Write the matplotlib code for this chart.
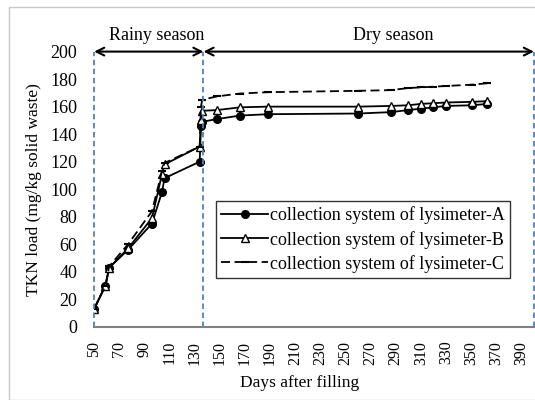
import matplotlib
matplotlib.use("Agg")
import matplotlib.pyplot as plt
from matplotlib.patches import Rectangle

plt.rcParams['font.family'] = ['Liberation Serif', 'DejaVu Serif']

# Days after filling (shared by the three collection systems)
days = [50, 59, 62, 77, 96, 104, 106, 134, 135, 136, 148, 166, 188,
        260, 286, 300, 310, 320, 330, 351, 363]

# TKN load (mg/kg solid waste)
tkn_a = [13, 30, 43, 56, 75, 98, 108, 120, 146, 149, 151, 153.5, 154.5,
         155, 156, 157.5, 158.5, 159.5, 160.5, 161, 162]
tkn_b = [13, 30, 43, 57, 79, 111, 118, 131, 150, 157, 157.5, 159.5, 160,
         160, 160.5, 161, 162, 162.5, 163, 163.5, 164]
tkn_c = [13, 30, 44, 60, 84, 113, 119, 131, 160, 165, 167.5, 169.5, 170.5,
         171.5, 172, 173.5, 174, 174.5, 175, 176, 177]

season_bounds = [50, 137, 400]
season_names = ["Rainy season", "Dry season"]
season_text_x = [100, 288]

fig = plt.figure(figsize=(5.35, 4.0), dpi=100)
ax = fig.add_axes([0.176, 0.183, 0.822, 0.688])

# light frame around the whole chart
fig.patches.append(Rectangle((9 / 535, 0), 1, 1 - 7 / 400, transform=fig.transFigure,
                             fill=False, edgecolor='#c8c8c8', linewidth=1.0))

ax.plot(days, tkn_a, color='black', lw=1.3, marker='o', ms=5.5,
        label='collection system of lysimeter-A')
ax.plot(days, tkn_b, color='black', lw=1.3, marker='^', ms=5.5, mfc='white',
        label='collection system of lysimeter-B')
ax.plot(days, tkn_c, color='black', lw=1.3, ls=(0, (5, 2.5)), marker='_', ms=6, mew=1.5,
        label='collection system of lysimeter-C')

# season boundaries
for b in season_bounds:
    ax.plot([b, b], [0, 200], color='#4f81bd', lw=1.3, ls=(0, (3, 2)), clip_on=False)

for i in range(2):
    ax.annotate('', xy=(season_bounds[i], 200), xytext=(season_bounds[i + 1], 200),
                arrowprops=dict(arrowstyle='<->', color='black', lw=1.5,
                                mutation_scale=14, shrinkA=0, shrinkB=0),
                annotation_clip=False)
    ax.text(season_text_x[i], 211.5, season_names[i], ha='center', va='center', fontsize=13)

ax.set_xlim(50, 400)
ax.set_ylim(0, 200)
ax.set_xticks(range(50, 400, 20))
ax.set_yticks(range(0, 201, 20))
ax.tick_params(axis='x', labelrotation=90, length=0, labelsize=11.5, pad=10)
ax.tick_params(axis='y', length=0, labelsize=13, pad=12)

for s in ['top', 'right', 'left']:
    ax.spines[s].set_visible(False)
ax.spines['bottom'].set_color('#808080')
ax.spines['bottom'].set_linewidth(1.5)

ax.set_ylabel('TKN load (mg/kg solid waste)', fontsize=12.5, labelpad=6)
fig.text(300 / 535, 1 - 383 / 400, 'Days after filling', ha='center', va='center', fontsize=12.5)

leg = ax.legend(loc='upper left', bbox_to_anchor=(0.277, 0.457), fontsize=13,
                frameon=True, fancybox=False, edgecolor='black', handlelength=2.6,
                borderpad=0.3, labelspacing=0.35, handletextpad=0.1, borderaxespad=0)
leg.get_frame().set_linewidth(1.0)

fig.savefig('out.png', dpi=100)
